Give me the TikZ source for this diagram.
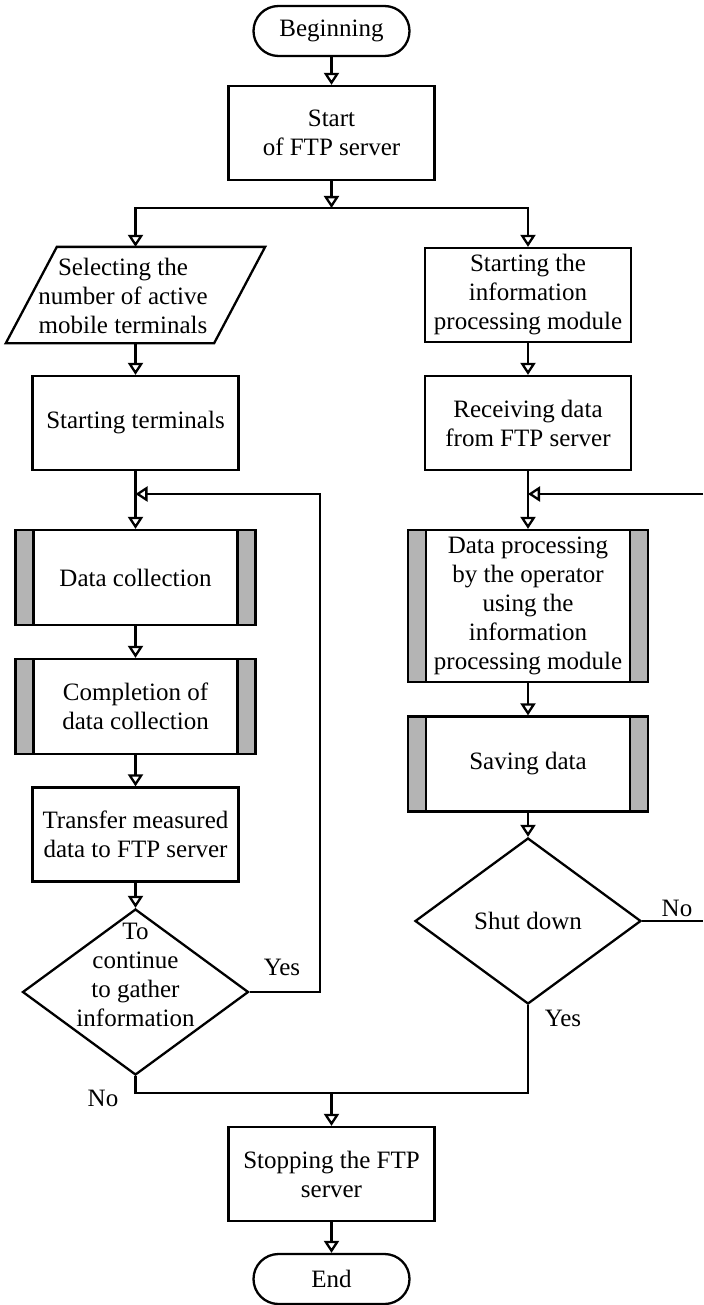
\documentclass[tikz,border=0pt]{standalone}
\usepackage{fontspec}
\setmainfont{Liberation Serif}
\usepackage{xcolor}
\usetikzlibrary{arrows.meta,shapes.geometric}
\definecolor{bargray}{RGB}{180,180,180}

\begin{document}
\begin{tikzpicture}[x=0.5pt, y=-0.5pt, line width=1.15pt,
  every node/.style={font=\fontsize{12.5pt}{14.5pt}\selectfont, align=center, inner sep=0pt},
  arr/.style={-{Triangle[open,width=7.5pt,length=6pt]}},
  term/.style={draw, rounded corners=12.5pt, minimum width=78pt, minimum height=25pt},
  box/.style={draw, minimum width=103pt, minimum height=47pt},
  predef/.style={draw, minimum width=120pt, minimum height=47.5pt,
    path picture={
      \fill[bargray] (path picture bounding box.north west) rectangle ([xshift=9pt]path picture bounding box.south west);
      \fill[bargray] (path picture bounding box.north east) rectangle ([xshift=-9pt]path picture bounding box.south east);
      \draw ([xshift=9pt]path picture bounding box.north west) -- ([xshift=9pt]path picture bounding box.south west);
      \draw ([xshift=-9pt]path picture bounding box.north east) -- ([xshift=-9pt]path picture bounding box.south east);
    }},
  decision/.style={draw, diamond, minimum width=113pt, minimum height=83pt}]
\useasboundingbox (0,0) rectangle (703,1305);

\node[term] (beg) at (331.5,31) {Beginning};
\node[box] (start) at (331.5,133) {Start\\of FTP server};
\coordinate (split) at (331.5,208);

\node[minimum width=128.5pt, minimum height=47pt] (select) at (135.5,295) {};
\draw (select.south west) -- ([xshift=-25.5pt]select.south east) -- (select.north east) -- ([xshift=25.5pt]select.north west) -- cycle;
\node (seltxt) at (123,296) {Selecting the\\number of active\\mobile terminals};
\node[box] (terms) at (135.5,423) {Starting terminals};
\coordinate (lmerge) at (135.5,494);
\node[predef] (collect) at (135.5,577.5) {Data collection};
\node[predef] (complete) at (135.5,706.5) {Completion of\\data collection};
\node[box] (transfer) at (135.5,834.5) {Transfer measured\\data to FTP server};
\node[decision] (gather) at (135.5,992) {};
\node (gathertxt) at (135.5,975) {To\\continue\\to gather\\information};

\node[box] (prmod) at (528,295) {Starting the\\information\\processing module};
\node[box] (recv) at (528,423) {Receiving data\\from FTP server};
\coordinate (rmerge) at (528,494);
\coordinate (redgeA) at (703,494);
\node[predef, minimum height=76pt] (dp) at (528,606) {Data processing\\by the operator\\using the\\information\\processing module};
\node[predef] (save) at (528,764) {Saving data};
\node[decision] (shutdown) at (528,921) {Shut down};
\coordinate (redgeB) at (703,921);

\coordinate (join) at (331.5,1093);
\node[box] (stop) at (331.5,1174) {Stopping the FTP\\server};
\node[term] (fin) at (331.5,1279) {End};

\node (yes1) at (282,967) {Yes};
\node (no1) at (677,908) {No};
\node (yes2) at (563,1018) {Yes};
\node (no2) at (103,1098) {No};

\draw[arr] (beg) -- (start);
\draw[arr] (start) -- (split);
\draw[arr] (split) -| (select.north);
\draw[arr] (split) -| (prmod);
\draw[arr] (select.south) -- (terms);
\draw[arr] (terms) -- (collect);
\draw[arr] (collect) -- (complete);
\draw[arr] (complete) -- (transfer);
\draw[arr] (transfer) -- (gather);
\draw[arr] (gather.east) -- ++(70,0) |- (lmerge);
\draw[arr] (prmod) -- (recv);
\draw[arr] (recv) -- (dp);
\draw[arr] (redgeA) -- (rmerge);
\draw[arr] (dp) -- (save);
\draw[arr] (save) -- (shutdown);
\draw (shutdown.east) -- (redgeB);
\draw (gather.south) |- (join);
\draw (shutdown.south) |- (join);
\draw[arr] (join) -- (stop);
\draw[arr] (stop) -- (fin);
\end{tikzpicture}
\end{document}
